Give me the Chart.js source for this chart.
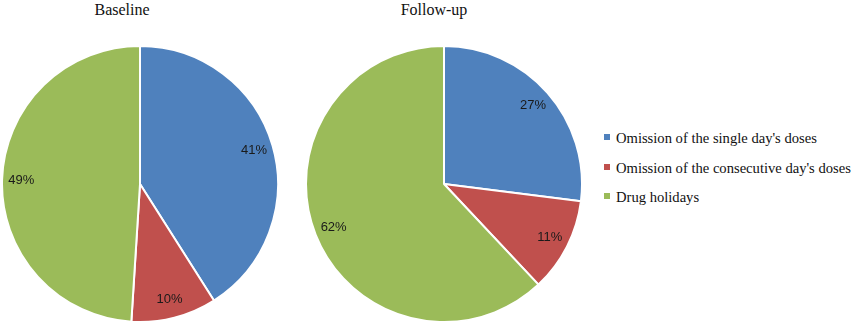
<!DOCTYPE html>
<html>
<head>
<meta charset="utf-8">
<script src="https://cdn.jsdelivr.net/npm/chart.js@4/dist/chart.umd.min.js"></script>
<style>
    body { margin: 0; background: #fff; width: 851px; height: 322px; overflow: hidden; position: relative; }
    .pie { position: absolute; top: 45px; width: 278px; height: 278px; }
    .title { position: absolute; top: 1px; width: 200px; text-align: center; font-family: "Liberation Serif", "Times New Roman", serif; font-size: 16px; color: #111; }
    #legend { position: absolute; left: 604px; top: 128px; font-family: "Liberation Serif", "Times New Roman", serif; font-size: 14.6px; color: #111; }
    #legend div { height: 29.5px; line-height: 20px; white-space: nowrap; }
    #legend span { display: inline-block; width: 6px; height: 6px; margin-right: 6px; vertical-align: 3px; }
</style>
</head>
<body>
<div class="title" style="left:22px">Baseline</div>
<div class="title" style="left:334px">Follow-up</div>
<div class="pie" style="left:1px"><canvas id="baselineChart"></canvas></div>
<div class="pie" style="left:305px"><canvas id="followupChart"></canvas></div>
<div id="legend"></div>

<script>
// Data
const categories = ["Omission of the single day's doses", "Omission of the consecutive day's doses", "Drug holidays"];
const baselineValues = [41, 10, 49];
const followupValues = [27, 11, 62];
const sliceColors = ['#4F81BD', '#C0504D', '#9BBB59'];

// Percent labels inside the slices
const pctLabels = {
    id: 'pctLabels',
    afterDatasetsDraw(chart) {
        const ctx = chart.ctx;
        const meta = chart.getDatasetMeta(0);
        const data = chart.data.datasets[0].data;
        ctx.save();
        ctx.font = '13px "Liberation Sans", Arial, sans-serif';
        ctx.fillStyle = '#1a1a1a';
        ctx.textAlign = 'center';
        ctx.textBaseline = 'middle';
        meta.data.forEach((arc, i) => {
            const p = arc.getProps(['x', 'y', 'startAngle', 'endAngle', 'outerRadius'], true);
            const mid = (p.startAngle + p.endAngle) / 2;
            const r = p.outerRadius * 0.86;
            ctx.fillText(data[i] + '%', p.x + Math.cos(mid) * r, p.y + Math.sin(mid) * r);
        });
        ctx.restore();
    }
};

const makePie = (id, values) => {
    new Chart(document.getElementById(id), {
        type: 'pie',
        data: {
            labels: categories,
            datasets: [{
                data: values,
                backgroundColor: sliceColors,
                borderColor: '#ffffff',
                borderWidth: 2
            }]
        },
        options: {
            responsive: true,
            maintainAspectRatio: false,
            animation: false,
            plugins: {
                legend: { display: false },
                tooltip: { enabled: false }
            }
        },
        plugins: [pctLabels]
    });
};

makePie('baselineChart', baselineValues);
makePie('followupChart', followupValues);

// Legend
const legendEl = document.getElementById('legend');
categories.forEach((c, i) => {
    const row = document.createElement('div');
    row.innerHTML = '<span style="background:' + sliceColors[i] + '"></span>' + c;
    legendEl.appendChild(row);
});
</script>
</body>
</html>
